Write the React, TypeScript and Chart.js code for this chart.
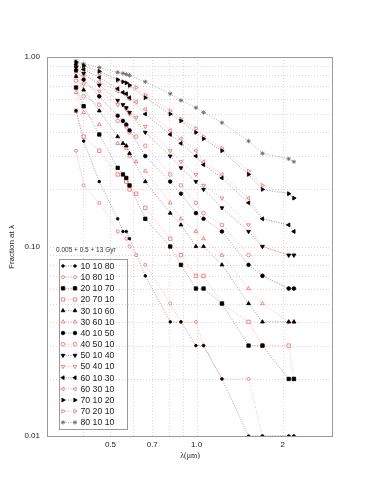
import React, { useEffect, useRef } from 'react';
import { Chart, registerables } from 'chart.js';

Chart.register(...registerables);

// wavelengths (micron) sampled by the "x 10 y" (black) and "x y 10" (red) models
const wavelengthBlack = [0.379, 0.403, 0.457, 0.530, 0.553, 0.568, 0.583, 0.662, 0.809, 0.882, 0.995, 1.058, 1.227, 1.52, 1.70, 2.10, 2.19];
const wavelengthRed = [0.379, 0.403, 0.457, 0.530, 0.568, 0.583, 0.615, 0.662, 0.809, 0.882, 0.995, 1.058, 1.227, 1.52, 1.70, 2.10, 2.19];

const seriesLabels = ['10 10 80', '10 80 10', '20 10 70', '20 70 10', '30 10 60', '30 60 10', '40 10 50', '40 50 10', '50 10 40', '50 40 10', '60 10 30', '60 30 10', '70 10 20', '70 20 10', '80 10 10'];

const f101080 = [0.52, 0.36, 0.22, 0.14, 0.12, 0.12, 0.11, 0.07, 0.04, 0.04, 0.03, 0.03, 0.02, 0.01, 0.01, 0.01, 0.01];
const f108010 = [0.32, 0.21, 0.17, 0.12, 0.11, 0.10, 0.09, 0.08, 0.05, 0.04, 0.04, 0.03, 0.02, 0.02, 0.01, 0.01, 0.01];
const f201070 = [0.69, 0.55, 0.39, 0.26, 0.24, 0.23, 0.21, 0.14, 0.10, 0.08, 0.06, 0.06, 0.05, 0.03, 0.03, 0.02, 0.02];
const f207010 = [0.52, 0.38, 0.32, 0.24, 0.22, 0.20, 0.19, 0.16, 0.11, 0.09, 0.07, 0.07, 0.05, 0.04, 0.03, 0.03, 0.02];
const f301060 = [0.79, 0.67, 0.52, 0.38, 0.35, 0.34, 0.31, 0.22, 0.15, 0.13, 0.10, 0.10, 0.08, 0.05, 0.04, 0.04, 0.04];
const f306010 = [0.65, 0.51, 0.44, 0.35, 0.33, 0.30, 0.28, 0.25, 0.17, 0.14, 0.12, 0.11, 0.09, 0.06, 0.05, 0.04, 0.04];
const f401050 = [0.85, 0.76, 0.62, 0.49, 0.46, 0.44, 0.41, 0.30, 0.22, 0.19, 0.15, 0.14, 0.12, 0.08, 0.07, 0.06, 0.06];
const f405010 = [0.75, 0.62, 0.56, 0.46, 0.43, 0.40, 0.38, 0.34, 0.24, 0.21, 0.17, 0.15, 0.13, 0.09, 0.07, 0.06, 0.06];
const f501040 = [0.88, 0.82, 0.71, 0.59, 0.56, 0.54, 0.51, 0.40, 0.30, 0.26, 0.22, 0.20, 0.16, 0.12, 0.10, 0.09, 0.09];
const f504010 = [0.82, 0.72, 0.66, 0.56, 0.53, 0.50, 0.48, 0.43, 0.32, 0.28, 0.24, 0.21, 0.18, 0.13, 0.10, 0.09, 0.09];
const f601030 = [0.91, 0.86, 0.78, 0.68, 0.65, 0.64, 0.61, 0.50, 0.39, 0.35, 0.30, 0.27, 0.23, 0.17, 0.14, 0.13, 0.12];
const f603010 = [0.88, 0.80, 0.74, 0.66, 0.63, 0.60, 0.58, 0.53, 0.41, 0.37, 0.32, 0.28, 0.24, 0.18, 0.14, 0.13, 0.12];
const f701020 = [0.94, 0.90, 0.84, 0.76, 0.74, 0.73, 0.71, 0.61, 0.50, 0.46, 0.40, 0.37, 0.32, 0.24, 0.20, 0.19, 0.18];
const f702010 = [0.92, 0.87, 0.82, 0.75, 0.73, 0.70, 0.69, 0.63, 0.52, 0.47, 0.42, 0.38, 0.33, 0.25, 0.21, 0.19, 0.18];
const f801010 = [0.95, 0.92, 0.88, 0.83, 0.82, 0.81, 0.80, 0.74, 0.64, 0.59, 0.54, 0.51, 0.45, 0.36, 0.31, 0.29, 0.28];

const seriesValues = [f101080, f108010, f201070, f207010, f301060, f306010, f401050, f405010, f501040, f504010, f601030, f603010, f701020, f702010, f801010];

const xTickValues = [0.3, 0.4, 0.5, 0.6, 0.7, 0.8, 0.9, 1, 2, 3];
const xTickLabels: Record<string, string> = { '0.5': '0.5', '0.7': '0.7', '1': '1.0', '2': '2' };
const yTickValues = [0.01, 0.02, 0.03, 0.04, 0.05, 0.06, 0.07, 0.08, 0.09, 0.1, 0.2, 0.3, 0.4, 0.5, 0.6, 0.7, 0.8, 0.9, 1];
const yTickLabels: Record<string, string> = { '0.01': '0.01', '0.1': '0.10', '1': '1.00' };

const BLACK = '#000000';
const BLACK_LINE = '#8c8c8c';
const RED = '#f06a6a';
const RED_LINE = '#f5a8a8';
const GRAY = '#666666';

type Style = { pointStyle: string; rotation: number; radius: number; filled: boolean; color: string; line: string };

const styles: Style[] = [
  { pointStyle: 'circle', rotation: 0, radius: 1.3, filled: true, color: BLACK, line: BLACK_LINE },
  { pointStyle: 'circle', rotation: 0, radius: 1.5, filled: false, color: RED, line: RED_LINE },
  { pointStyle: 'rect', rotation: 0, radius: 2.4, filled: true, color: BLACK, line: BLACK_LINE },
  { pointStyle: 'rect', rotation: 0, radius: 2.4, filled: false, color: RED, line: RED_LINE },
  { pointStyle: 'triangle', rotation: 0, radius: 2.2, filled: true, color: BLACK, line: BLACK_LINE },
  { pointStyle: 'triangle', rotation: 0, radius: 2.2, filled: false, color: RED, line: RED_LINE },
  { pointStyle: 'circle', rotation: 0, radius: 1.8, filled: true, color: BLACK, line: BLACK_LINE },
  { pointStyle: 'circle', rotation: 0, radius: 1.8, filled: false, color: RED, line: RED_LINE },
  { pointStyle: 'triangle', rotation: 180, radius: 2.2, filled: true, color: BLACK, line: BLACK_LINE },
  { pointStyle: 'triangle', rotation: 180, radius: 2.2, filled: false, color: RED, line: RED_LINE },
  { pointStyle: 'triangle', rotation: 270, radius: 2.2, filled: true, color: BLACK, line: BLACK_LINE },
  { pointStyle: 'triangle', rotation: 270, radius: 2.2, filled: false, color: RED, line: RED_LINE },
  { pointStyle: 'triangle', rotation: 90, radius: 2.2, filled: true, color: BLACK, line: BLACK_LINE },
  { pointStyle: 'triangle', rotation: 90, radius: 2.2, filled: false, color: RED, line: RED_LINE },
  { pointStyle: 'star', rotation: 0, radius: 2.2, filled: true, color: GRAY, line: '#9a9a9a' },
];

function drawMarker(ctx: CanvasRenderingContext2D, s: Style, x: number, y: number) {
  ctx.save();
  ctx.lineWidth = 0.8;
  ctx.strokeStyle = s.color;
  ctx.fillStyle = s.filled ? s.color : '#ffffff';
  const r = s.radius;
  ctx.beginPath();
  if (s.pointStyle === 'circle') {
    ctx.arc(x, y, r, 0, Math.PI * 2);
  } else if (s.pointStyle === 'rect') {
    const h = r * Math.SQRT1_2;
    ctx.rect(x - h, y - h, 2 * h, 2 * h);
  } else if (s.pointStyle === 'triangle') {
    let rad = (s.rotation * Math.PI) / 180;
    ctx.moveTo(x + Math.sin(rad) * r, y - Math.cos(rad) * r);
    rad += (2 * Math.PI) / 3;
    ctx.lineTo(x + Math.sin(rad) * r, y - Math.cos(rad) * r);
    rad += (2 * Math.PI) / 3;
    ctx.lineTo(x + Math.sin(rad) * r, y - Math.cos(rad) * r);
    ctx.closePath();
  } else if (s.pointStyle === 'star') {
    for (let k = 0; k < 4; k++) {
      const a = (k * Math.PI) / 4;
      ctx.moveTo(x - Math.cos(a) * r, y - Math.sin(a) * r);
      ctx.lineTo(x + Math.cos(a) * r, y + Math.sin(a) * r);
    }
  }
  if (s.pointStyle !== 'star') ctx.fill();
  ctx.stroke();
  ctx.restore();
}

const decorPlugin = {
  id: 'decor',
  beforeDatasetsDraw(chart: any) {
    const { ctx, chartArea: a, scales } = chart;
    ctx.save();
    ctx.lineWidth = 0.8;
    ctx.setLineDash([1, 2]);
    ctx.strokeStyle = '#e8c4c4';
    for (const v of xTickValues) {
      const x = Math.round(scales.x.getPixelForValue(v)) + 0.5;
      if (x <= a.left + 1 || x >= a.right - 1) continue;
      ctx.beginPath();
      ctx.moveTo(x, a.top);
      ctx.lineTo(x, a.bottom);
      ctx.stroke();
    }
    ctx.strokeStyle = '#d9c8c8';
    for (const v of yTickValues) {
      const y = Math.round(scales.y.getPixelForValue(v)) + 0.5;
      if (y <= a.top + 1 || y >= a.bottom - 1) continue;
      ctx.beginPath();
      ctx.moveTo(a.left, y);
      ctx.lineTo(a.right, y);
      ctx.stroke();
    }
    ctx.setLineDash([]);
    ctx.strokeStyle = '#9a9a9a';
    ctx.lineWidth = 1;
    ctx.strokeRect(a.left + 0.5, a.top + 0.5, a.right - a.left - 1, a.bottom - a.top);
    ctx.restore();
  },
  afterDraw(chart: any) {
    const { ctx } = chart;
    ctx.save();
    ctx.fillStyle = '#222';
    ctx.font = '8px "Liberation Sans", Arial, sans-serif';
    ctx.textAlign = 'center';
    ctx.textBaseline = 'middle';
    ctx.save();
    ctx.translate(12, 247);
    ctx.rotate(-Math.PI / 2);
    ctx.fillText('Fraction at λ', 0, 0);
    ctx.restore();
    ctx.font = '8px "Liberation Serif", "Times New Roman", serif';
    ctx.fillText('λ(μm)', 190, 456);

    ctx.font = '6.5px "Liberation Sans", Arial, sans-serif';
    ctx.textAlign = 'left';
    ctx.fillStyle = '#333';
    ctx.fillText('0.005 + 0.5 + 13 Gyr', 56, 250);

    const bx = 59.5, by = 259.5, bw = 68, bh = 170;
    ctx.strokeStyle = '#9a9a9a';
    ctx.lineWidth = 1;
    ctx.strokeRect(bx, by, bw, bh);
    ctx.font = '8.7px "Liberation Sans", Arial, sans-serif';
    ctx.textBaseline = 'middle';
    for (let i = 0; i < seriesLabels.length; i++) {
      const y = 266 + i * 11.17;
      const s = styles[i];
      ctx.save();
      ctx.strokeStyle = s.line;
      ctx.lineWidth = 0.9;
      ctx.setLineDash([1, 1.5]);
      ctx.beginPath();
      ctx.moveTo(63, y);
      ctx.lineTo(75, y);
      ctx.stroke();
      ctx.restore();
      drawMarker(ctx, s, 63, y);
      drawMarker(ctx, s, 75, y);
      ctx.fillStyle = '#222';
      ctx.fillText(seriesLabels[i], 80.5, y + 0.5);
    }
    ctx.restore();
  },
};

export default function App() {
  const ref = useRef<HTMLCanvasElement>(null);
  useEffect(() => {
    if (!ref.current) return;
    const datasets = seriesValues.map((vals, i) => {
      const s = styles[i];
      const xs = s.color === RED ? wavelengthRed : wavelengthBlack;
      const pts = xs
        .map((x, k) => (vals[k] == null ? null : { x, y: vals[k] as number }))
        .filter((p) => p !== null);
      return {
        label: seriesLabels[i],
        data: pts,
        borderColor: s.line,
        borderWidth: 0.8,
        borderDash: [1, 1.5],
        pointStyle: s.pointStyle,
        rotation: s.rotation,
        pointRadius: s.radius,
        pointBorderWidth: 0.8,
        pointBorderColor: s.color,
        pointBackgroundColor: s.filled ? s.color : '#ffffff',
        fill: false,
        tension: 0,
      };
    });
    const chart = new Chart(ref.current, {
      type: 'line',
      data: { datasets: datasets as any },
      options: {
        animation: false,
        responsive: false,
        devicePixelRatio: 1,
        layout: { padding: { top: 57, right: 50, left: 0, bottom: 0 } },
        plugins: { legend: { display: false }, tooltip: { enabled: false } },
        scales: {
          x: {
            type: 'logarithmic',
            min: 0.3,
            max: 3,
            grid: { display: false, drawTicks: false, tickLength: 0 },
            border: { display: false },
            afterBuildTicks: (s: any) => {
              s.ticks = xTickValues.map((v) => ({ value: v }));
            },
            afterFit: (s: any) => {
              s.height = 59;
            },
            ticks: {
              autoSkip: false,
              maxRotation: 0,
              padding: 4,
              color: '#222',
              font: { size: 8, family: '"Liberation Sans", Arial, sans-serif' },
              callback: (v: any) => xTickLabels[String(v)] ?? '',
            },
          },
          y: {
            type: 'logarithmic',
            min: 0.01,
            max: 1,
            grid: { display: false, drawTicks: false, tickLength: 0 },
            border: { display: false },
            afterBuildTicks: (s: any) => {
              s.ticks = yTickValues.map((v) => ({ value: v }));
            },
            afterFit: (s: any) => {
              s.width = 47;
            },
            ticks: {
              autoSkip: false,
              padding: 7,
              color: '#222',
              font: { size: 8, family: '"Liberation Sans", Arial, sans-serif' },
              callback: (v: any) => yTickLabels[String(v)] ?? '',
            },
          },
        },
      },
      plugins: [decorPlugin],
    });
    return () => chart.destroy();
  }, []);
  return (
    <div style={{ position: 'fixed', left: 0, top: 0, width: 383, height: 495, background: '#fff' }}>
      <canvas ref={ref} width={383} height={495} style={{ width: 383, height: 495, display: 'block' }} />
    </div>
  );
}
